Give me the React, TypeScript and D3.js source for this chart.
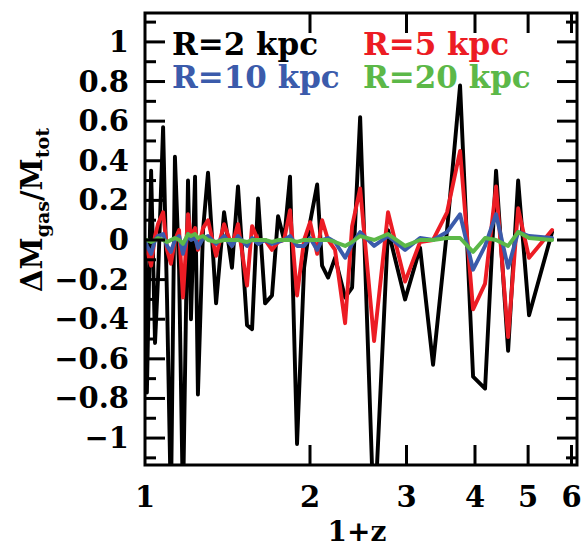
import React from "react";
import * as d3 from "d3";

const zPlus1 = [1.0, 1.008, 1.026, 1.043, 1.056, 1.079, 1.097, 1.115, 1.134, 1.154, 1.173, 1.198, 1.213, 1.234, 1.249, 1.276, 1.303, 1.348, 1.394, 1.441, 1.478, 1.535, 1.568, 1.608, 1.656, 1.705, 1.749, 1.794, 1.839, 1.894, 1.951, 2.001, 2.061, 2.104, 2.158, 2.222, 2.318, 2.387, 2.469, 2.618, 2.776, 2.982, 3.176, 3.354, 3.557, 3.757, 3.968, 4.173, 4.370, 4.597, 4.795, 5.020, 5.530];

const r2 = [0.0, -0.77, 0.35, -0.52, -0.2, 0.57, -0.3, -1.35, 0.42, -0.15, -1.35, 0.30, -0.4, 0.32, -0.78, 0.05, 0.34, -0.32, 0.14, -0.14, 0.27, -0.43, -0.45, 0.21, -0.32, -0.28, 0.12, 0.0, 0.32, -1.03, -0.14, 0.09, 0.28, -0.13, -0.19, -0.09, -0.29, -0.24, 0.62, -1.45, 0.05, -0.30, -0.04, -0.63, 0.05, 0.78, -0.69, -0.75, 0.35, -0.56, 0.30, -0.38, 0.04];
const r5 = [0.0, -0.05, -0.13, 0.02, 0.08, 0.14, -0.05, -0.12, 0.0, 0.05, -0.29, 0.13, 0.02, 0.06, -0.05, 0.06, 0.10, -0.08, 0.08, -0.03, 0.08, -0.23, 0.07, 0.0, 0.0, -0.05, -0.01, 0.0, 0.15, -0.28, 0.0, 0.09, -0.07, 0.10, 0.0, -0.05, -0.42, 0.07, 0.26, -0.51, 0.14, -0.21, -0.01, 0.0, 0.14, 0.45, -0.35, -0.22, 0.27, -0.49, 0.16, -0.09, 0.05];
const r10 = [0.0, -0.03, -0.07, 0.0, 0.02, 0.03, -0.03, -0.06, 0.0, 0.02, -0.07, 0.03, 0.0, 0.01, -0.04, 0.01, 0.02, -0.02, 0.02, -0.03, 0.02, -0.03, 0.01, -0.02, 0.0, -0.02, -0.01, 0.0, 0.02, -0.03, -0.03, 0.01, -0.05, 0.0, 0.01, -0.01, -0.09, -0.02, 0.04, -0.03, 0.02, -0.05, 0.01, 0.0, 0.04, 0.13, -0.15, -0.03, 0.13, -0.14, 0.04, 0.02, 0.01];
const r20 = [0.0, 0.0, -0.01, 0.0, 0.01, 0.0, -0.01, 0.0, 0.01, 0.0, -0.02, 0.03, 0.02, 0.03, 0.01, 0.02, 0.0, -0.01, 0.0, 0.0, 0.0, -0.01, 0.0, 0.0, 0.0, -0.01, 0.0, 0.0, 0.0, -0.01, 0.0, 0.0, 0.0, 0.0, 0.0, -0.01, -0.03, -0.01, 0.02, 0.0, 0.03, -0.03, 0.0, 0.0, 0.01, 0.01, -0.06, 0.01, 0.0, -0.03, 0.04, 0.01, 0.0];

const seriesNames = ["R=2 kpc", "R=5 kpc", "R=10 kpc", "R=20 kpc"];
const seriesColors = ["#000000", "#ec1c24", "#3b5bab", "#5cb848"];
const seriesValues = [r2, r5, r10, r20];

const xTicks = [1, 2, 3, 4, 5, 6];
const yMajor = [-1, -0.8, -0.6, -0.4, -0.2, 0, 0.2, 0.4, 0.6, 0.8, 1];
const yMinor = [-1.1, -0.9, -0.7, -0.5, -0.3, -0.1, 0.1, 0.3, 0.5, 0.7, 0.9, 1.1];

const W = 587, H = 549;
const L = 145, R = 577, T = 13, B = 465;
const FONT = "'DejaVu Serif', serif";

export default function App() {
  const x = d3.scaleLog().domain([1, 6.14]).range([L, R]);
  const y = d3.scaleLinear().domain([-1.136, 1.146]).range([B, T]);
  const line = d3.line<number>().x((_, i) => x(zPlus1[i])).y((d) => y(d));
  const fmt = (v: number) => (v === 0 ? "0" : (v < 0 ? "\u2212" : "") + String(Math.abs(v)));

  return (
    <svg width={W} height={H} style={{ position: "absolute", left: 0, top: 0, background: "#fff" }}>
      <defs>
        <clipPath id="plotclip">
          <rect x={L} y={T} width={R - L} height={B - T} />
        </clipPath>
      </defs>
      <rect x={0} y={0} width={W} height={H} fill="#fff" />
      <g clipPath="url(#plotclip)" fill="none" strokeWidth={3.9} strokeLinejoin="round" strokeLinecap="round">
        {seriesValues.map((vals, k) => (
          <path key={k} d={line(vals) || ""} stroke={seriesColors[k]} />
        ))}
      </g>
      <g stroke="#000" strokeWidth={3}>
        {xTicks.slice(1).map((t) => (
          <g key={"xt" + t}>
            <line x1={x(t)} x2={x(t)} y1={B} y2={B - 20} />
            <line x1={x(t)} x2={x(t)} y1={T} y2={T + 20} />
          </g>
        ))}
        {yMajor.map((t) => (
          <g key={"ym" + t}>
            <line x1={L} x2={L + 20} y1={y(t)} y2={y(t)} />
            <line x1={R} x2={R - 20} y1={y(t)} y2={y(t)} />
          </g>
        ))}
        {yMinor.map((t) => (
          <g key={"yn" + t}>
            <line x1={L} x2={L + 11} y1={y(t)} y2={y(t)} />
            <line x1={R} x2={R - 11} y1={y(t)} y2={y(t)} />
          </g>
        ))}
        <rect x={L} y={T} width={R - L} height={B - T} fill="none" />
      </g>
      <g fontFamily={FONT} fontWeight="bold" fontSize={29} fill="#000">
        {yMajor.map((t) => (
          <text key={"yl" + t} x={129} y={y(t) + 10} textAnchor="end">{fmt(t)}</text>
        ))}
        {xTicks.map((t) => (
          <text key={"xl" + t} x={x(t)} y={507} textAnchor="middle">{t}</text>
        ))}
        <text x={357} y={541} textAnchor="middle" fontSize={28}>1+z</text>
        <text transform="translate(42,210) rotate(-90)" textAnchor="middle">
          <tspan>ΔM</tspan>
          <tspan fontSize={19} dy={7}>gas</tspan>
          <tspan dy={-7}>/M</tspan>
          <tspan fontSize={19} dy={7}>tot</tspan>
        </text>
      </g>
      <g fontFamily={FONT} fontWeight="bold" fontSize={31}>
        {seriesNames.map((n, k) => (
          <text key={n} x={k % 2 === 0 ? 172 : 363} y={k < 2 ? 55 : 88} fill={seriesColors[k]}>{n}</text>
        ))}
      </g>
    </svg>
  );
}
